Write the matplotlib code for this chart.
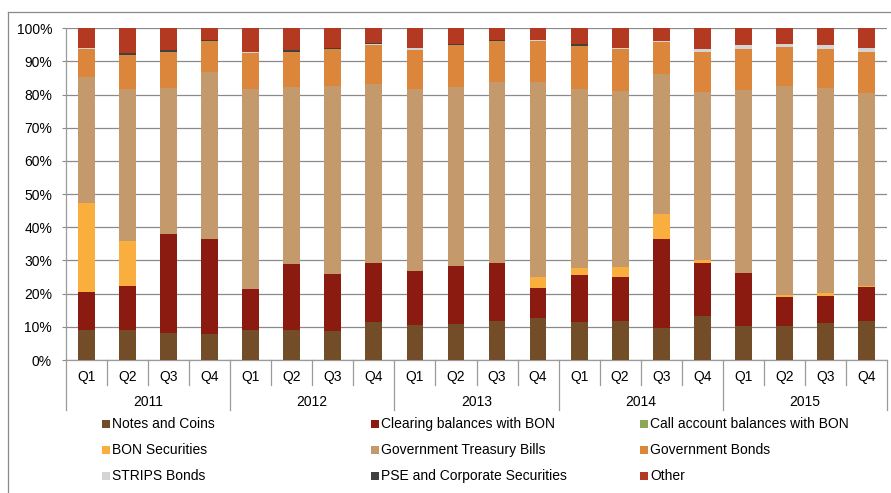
import matplotlib
matplotlib.use("Agg")
import matplotlib.pyplot as plt
from matplotlib.patches import Rectangle
from matplotlib.lines import Line2D
import numpy as np

plt.rcParams['font.family'] = ['Liberation Sans', 'DejaVu Sans']

years = ["2011", "2012", "2013", "2014", "2015"]
quarters = ["Q1", "Q2", "Q3", "Q4"]

series_names = [
    "Notes and Coins", "Clearing balances with BON", "Call account balances with BON",
    "BON Securities", "Government Treasury Bills", "Government Bonds",
    "STRIPS Bonds", "PSE and Corporate Securities", "Other",
]
series_colors = ["#734C28", "#8B1B10", "#8BA654", "#F9AE3E", "#C49A6C",
                 "#DC863B", "#D4D4D4", "#404040", "#B33A20"]

# Shares of total (%), 2011 Q1 .. 2015 Q4
notes_coins = [9.0, 9.0, 8.0, 7.7, 9.0, 9.0, 8.6, 11.4, 10.6, 10.9,
               11.7, 12.6, 11.4, 11.7, 9.7, 13.3, 10.4, 10.4, 11.1, 11.7]
clearing_bon = [11.5, 13.4, 30.1, 28.8, 12.4, 19.9, 17.2, 17.7, 16.2, 17.4,
                17.6, 9.2, 14.1, 13.4, 26.8, 15.8, 15.9, 8.5, 8.3, 10.4]
call_account = [0.0] * 20
bon_securities = [26.8, 13.4, 0.0, 0.0, 0.0, 0.0, 0.0, 0.0, 0.0, 0.0,
                  0.0, 3.2, 2.1, 3.0, 7.5, 1.0, 0.0, 0.6, 0.9, 0.2]
treasury_bills = [37.9, 45.8, 43.9, 50.4, 60.3, 53.3, 56.8, 54.1, 54.8, 53.9,
                  54.4, 58.7, 54.0, 53.0, 42.2, 50.7, 55.1, 63.1, 61.7, 58.3]
gov_bonds = [8.5, 10.5, 10.9, 9.4, 10.8, 10.8, 11.1, 11.8, 12.0, 12.8,
             12.5, 12.6, 13.2, 12.6, 9.8, 12.2, 12.3, 11.7, 11.7, 12.4]
strips_bonds = [0.4, 0.0, 0.0, 0.0, 0.3, 0.0, 0.0, 0.3, 0.4, 0.0,
                0.0, 0.3, 0.0, 0.4, 0.3, 0.8, 1.4, 1.0, 1.2, 1.1]
pse_corporate = [0.0, 0.4, 0.6, 0.3, 0.2, 0.4, 0.3, 0.3, 0.0, 0.4,
                 0.4, 0.0, 0.4, 0.0, 0.0, 0.0, 0.0, 0.0, 0.0, 0.0]
other = [5.9, 7.5, 6.5, 3.4, 7.0, 6.6, 6.0, 4.4, 6.0, 4.6,
         3.4, 3.4, 4.8, 5.9, 3.7, 6.2, 4.9, 4.7, 5.1, 5.9]

series = [notes_coins, clearing_bon, call_account, bon_securities, treasury_bills,
          gov_bonds, strips_bonds, pse_corporate, other]

W, H = 891, 493
FS = 10
fig = plt.figure(figsize=(W / 100, H / 100), dpi=100)

ax_left, ax_right, ax_top, ax_bot = 66, 887, 28.3, 360
ax = fig.add_axes([ax_left / W, 1 - ax_bot / H, (ax_right - ax_left) / W, (ax_bot - ax_top) / H])

n = len(notes_coins)
x = np.arange(n) + 0.5
bottom = np.zeros(n)
for vals, col in zip(series, series_colors):
    v = np.array(vals)
    ax.bar(x, v, width=0.41, bottom=bottom, color=col, linewidth=0, zorder=3)
    bottom += v

ax.set_xlim(0, n)
ax.set_ylim(0, 100)
ax.set_yticks(np.arange(0, 101, 10))
ax.set_yticklabels([f"{t}%" for t in range(0, 101, 10)], fontsize=FS)
ax.set_xticks([])
ax.yaxis.grid(True, color="#8a8a8a", linewidth=0.9, zorder=0)
ax.tick_params(axis="y", length=3, width=0.8, color="#8a8a8a", pad=7)
for s in ["top", "right"]:
    ax.spines[s].set_visible(False)
for s in ["left", "bottom"]:
    ax.spines[s].set_color("#9a9a9a")
    ax.spines[s].set_linewidth(0.9)

# category separators and labels below the axis
px_h = ax_bot - ax_top
def yfrac(px):
    return -(px - ax_bot) / px_h

trans = ax.get_xaxis_transform()
for k in range(n + 1):
    depth = 410 if k % 4 == 0 else 385
    ax.add_line(Line2D([k, k], [0, yfrac(depth)], transform=trans,
                       color="#9a9a9a", linewidth=0.9, clip_on=False))
for i in range(n):
    ax.text(x[i], yfrac(376.5), quarters[i % 4], transform=trans,
            ha="center", va="center", fontsize=FS)
for j, yr in enumerate(years):
    ax.text(4 * j + 2, yfrac(402), yr, transform=trans,
            ha="center", va="center", fontsize=FS)

# legend laid out in three columns
col_x = [102, 371, 640]
row_y = [424, 450, 476]
for idx, (name, col) in enumerate(zip(series_names, series_colors)):
    r, c = divmod(idx, 3)
    cx, cy = col_x[c], row_y[r]
    fig.add_artist(Rectangle((cx / W, 1 - (cy + 4) / H), 8 / W, 8 / H,
                             transform=fig.transFigure, color=col, linewidth=0))
    fig.text((cx + 10) / W, 1 - cy / H, name, ha="left", va="center", fontsize=FS)

# chart frame
fig.add_artist(Line2D([8 / W, 1.0], [1 - 12 / H, 1 - 12 / H], transform=fig.transFigure,
                      color="#8a8a8a", linewidth=0.9))
fig.add_artist(Line2D([8 / W, 8 / W], [0, 1 - 12 / H], transform=fig.transFigure,
                      color="#8a8a8a", linewidth=0.9))

fig.savefig("out.png", dpi=100)
